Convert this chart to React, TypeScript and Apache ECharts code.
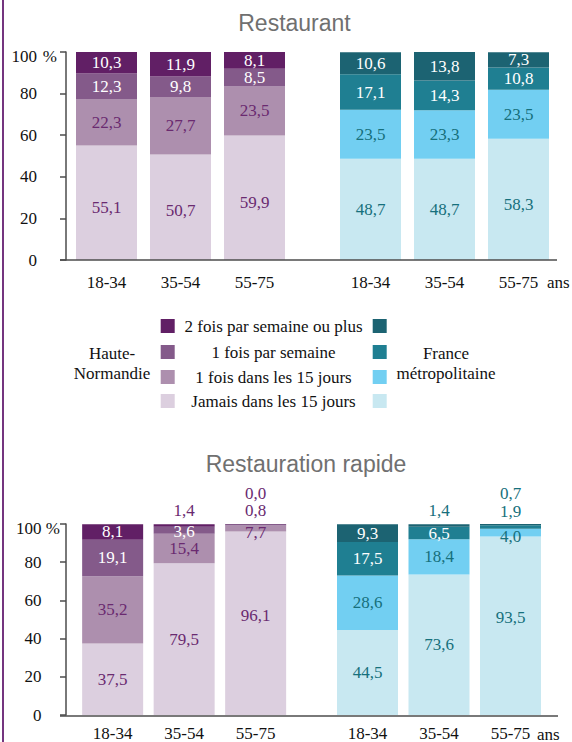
import React, { useEffect, useRef } from "react";
import * as echarts from "echarts";

// ---------- data ----------
const ages = ["18-34", "35-54", "55-75"];
// stacking order, bottom -> top
const frequencies = [
  "Jamais dans les 15 jours",
  "1 fois dans les 15 jours",
  "1 fois par semaine",
  "2 fois par semaine ou plus",
];

// Restaurant (rows = frequencies bottom->top, cols = ages)
const restaurantHN = [
  [55.1, 50.7, 59.9],
  [22.3, 27.7, 23.5],
  [12.3, 9.8, 8.5],
  [10.3, 11.9, 8.1],
];
const restaurantFR = [
  [48.7, 48.7, 58.3],
  [23.5, 23.3, 23.5],
  [17.1, 14.3, 10.8],
  [10.6, 13.8, 7.3],
];
// Restauration rapide
const rapideHN = [
  [37.5, 79.5, 96.1],
  [35.2, 15.4, 3.1],
  [19.1, 3.6, 0.8],
  [8.1, 1.4, 0.0],
];
const rapideFR = [
  [44.5, 73.6, 93.5],
  [28.6, 18.4, 4.0],
  [17.5, 6.5, 1.9],
  [9.3, 1.4, 0.7],
];
// label printed on the original for a band drawn only ~3 points tall
const rapideHNPrinted: Record<string, string> = { "1-2": "7,7" };

const titles = ["Restaurant", "Restauration rapide"];
const regionHN = ["Haute-", "Normandie"];
const regionFR = ["France", "métropolitaine"];
const unitLabel = "ans";

// ---------- styles ----------
const hnColors = ["#dccfdf", "#ad8fae", "#845a8a", "#611f65"];
const frColors = ["#c8e8f1", "#72cff2", "#1f7f92", "#1c6372"];
const hnText = "#6a2a70";
const frText = "#16707c";
const SERIF = "Liberation Serif";
const SANS = "Liberation Sans";
const FS = 17;
const AXIS = "#4d4d4d";
const INK = "#111111";

// small vertical nudges of individual value labels (panel-group-series-category -> px)
const labelNudge: Record<string, number> = {
  "0-0-0-0": 5, "0-0-0-1": 3, "0-0-0-2": 5, "0-1-0-2": 5,
  "1-0-0-2": -8, "1-1-0-2": -8, "1-0-1-2": 4, "1-1-1-2": 4, "1-0-2-1": 1,
};

type Panel = {
  top: number;
  height: number;
  left: { x: number; w: number };
  right: { x: number; w: number };
  yLabelMargin: number;
  pctPad: number;
  pctGap: number;
  xLabelMargin: number;
  axisEnd: number;
  title: { x: number; y: number };
  ansX: number;
  ansY: number;
  hn: number[][];
  fr: number[][];
  printedHN: Record<string, string>;
  above: boolean;
};

const panels: Panel[] = [
  {
    top: 52, height: 208,
    left: { x: 69.5, w: 222 }, right: { x: 333.5, w: 222 },
    yLabelMargin: 29, pctPad: 9, pctGap: -4, xLabelMargin: 13.5, axisEnd: 557,
    title: { x: 294.5, y: 23 }, ansX: 547, ansY: 282,
    hn: restaurantHN, fr: restaurantFR, printedHN: {}, above: false,
  },
  {
    top: 524, height: 192,
    left: { x: 76.9, w: 214.5 }, right: { x: 331.75, w: 214.5 },
    yLabelMargin: 24.5, pctPad: 6, pctGap: -4, xLabelMargin: 10, axisEnd: 558,
    title: { x: 306, y: 464 }, ansX: 537, ansY: 734.5,
    hn: rapideHN, fr: rapideFR, printedHN: rapideHNPrinted, above: true,
  },
];

const fmt = (v: number) => v.toFixed(1).replace(".", ",");

function buildOption() {
  const grid: any[] = [];
  const xAxis: any[] = [];
  const yAxis: any[] = [];
  const series: any[] = [];
  const graphic: any[] = [];

  panels.forEach((p, pi) => {
    const groups = [
      { geo: p.left, data: p.hn, colors: hnColors, text: hnText, printed: p.printedHN, showY: true },
      { geo: p.right, data: p.fr, colors: frColors, text: frText, printed: {}, showY: false },
    ];
    groups.forEach((g, gi) => {
      const idx = grid.length;
      grid.push({ left: g.geo.x, width: g.geo.w, top: p.top, height: p.height });
      xAxis.push({
        type: "category",
        gridIndex: idx,
        data: ages,
        axisLine: { show: false },
        axisTick: { show: false },
        axisLabel: { margin: p.xLabelMargin, fontFamily: SERIF, fontSize: FS, color: INK },
      });
      yAxis.push({
        type: "value",
        gridIndex: idx,
        min: 0,
        max: 100,
        interval: 20,
        show: g.showY,
        offset: g.showY ? g.geo.x - 66 : 0,
        splitLine: { show: false },
        axisLine: { show: true, lineStyle: { color: AXIS, width: 1.5 } },
        axisTick: { show: true, length: 6, lineStyle: { color: AXIS, width: 1.5 } },
        axisLabel: {
          margin: p.yLabelMargin,
          fontFamily: SERIF,
          fontSize: FS,
          color: INK,
          formatter: (v: number) => (v === 100 ? "{t|100}" : String(v)),
          rich: { t: { padding: [8, 0, 0, 0], fontFamily: SERIF, fontSize: FS, color: INK } },
        },
        name: g.showY ? "%" : "",
        nameLocation: "end",
        nameGap: p.pctGap,
        nameTextStyle: {
          align: "right",
          verticalAlign: "middle",
          padding: [0, p.pctPad, 0, 0],
          fontFamily: SERIF,
          fontSize: FS,
          color: INK,
        },
      });
      g.data.forEach((vals, s) => {
        series.push({
          type: "bar",
          name: frequencies[s],
          xAxisIndex: idx,
          yAxisIndex: idx,
          stack: "s" + idx,
          barWidth: 61,
          itemStyle: { color: g.colors[s] },
          label: {
            show: true,
            position: "inside",
            fontFamily: SERIF,
            fontSize: FS,
            color: s >= 2 ? "#ffffff" : g.text,
            formatter: (prm: any) => {
              const key = s + "-" + prm.dataIndex;
              return (g.printed as any)[key] ?? fmt(prm.value);
            },
          },
          data: vals.map((v, c) => {
            if (p.above && s >= 2 && v < 2.5) {
              let line = 0;
              for (let k = 2; k < s; k++) if (g.data[k][c] < 2.5) line++;
              return {
                value: v,
                label: { position: "top", distance: 5, offset: [0, -17 * line], color: g.text },
              };
            }
            const nudge = labelNudge[`${pi}-${gi}-${s}-${c}`];
            if (nudge) return { value: v, label: { offset: [0, nudge] } };
            return v;
          }),
        });
      });
    });

    // x-axis baseline across both groups
    const yBase = p.top + p.height;
    graphic.push({
      type: "line",
      shape: { x1: 60, y1: yBase, x2: p.axisEnd, y2: yBase },
      style: { stroke: AXIS, lineWidth: 1.5 },
      z: 10,
    });
    graphic.push({
      type: "text",
      x: p.ansX,
      y: p.ansY,
      style: { text: unitLabel, fontFamily: SERIF, fontSize: FS, fill: INK, verticalAlign: "middle" },
    });
    graphic.push({
      type: "text",
      x: p.title.x,
      y: p.title.y,
      style: {
        text: titles[pi],
        fontFamily: SANS,
        fontSize: 23,
        fill: "#707070",
        align: "center",
        verticalAlign: "middle",
      },
    });
  });

  // legend block
  const rowsY = [326, 352, 377, 401];
  const legendOrder = [3, 2, 1, 0];
  legendOrder.forEach((s, r) => {
    const y = rowsY[r];
    graphic.push({ type: "rect", shape: { x: 160.7, y: y - 7, width: 14, height: 14 }, style: { fill: hnColors[s] } });
    graphic.push({ type: "rect", shape: { x: 372.7, y: y - 7, width: 14, height: 14 }, style: { fill: frColors[s] } });
    graphic.push({
      type: "text",
      x: 273.5,
      y,
      style: { text: frequencies[s], fontFamily: SERIF, fontSize: FS, fill: INK, align: "center", verticalAlign: "middle" },
    });
  });
  regionHN.forEach((t, i) => {
    graphic.push({
      type: "text", x: 112, y: 353 + i * 20,
      style: { text: t, fontFamily: SERIF, fontSize: FS, fill: INK, align: "center", verticalAlign: "middle" },
    });
  });
  regionFR.forEach((t, i) => {
    graphic.push({
      type: "text", x: 446, y: 353 + i * 20,
      style: { text: t, fontFamily: SERIF, fontSize: FS, fill: INK, align: "center", verticalAlign: "middle" },
    });
  });

  // purple page border
  graphic.push({
    type: "line",
    shape: { x1: 3, y1: 0, x2: 3, y2: 742 },
    style: { stroke: "#74357f", lineWidth: 2 },
  });

  return {
    animation: false,
    backgroundColor: "#ffffff",
    textStyle: { fontFamily: SERIF },
    grid,
    xAxis,
    yAxis,
    series,
    graphic,
  };
}

export default function App() {
  const ref = useRef<HTMLDivElement>(null);
  useEffect(() => {
    if (!ref.current) return;
    const chart = echarts.init(ref.current, undefined, { renderer: "svg" });
    chart.setOption(buildOption() as any);
    return () => chart.dispose();
  }, []);
  return (
    <div
      ref={ref}
      style={{ position: "absolute", left: 0, top: 0, width: 572, height: 742, background: "#fff" }}
    />
  );
}
